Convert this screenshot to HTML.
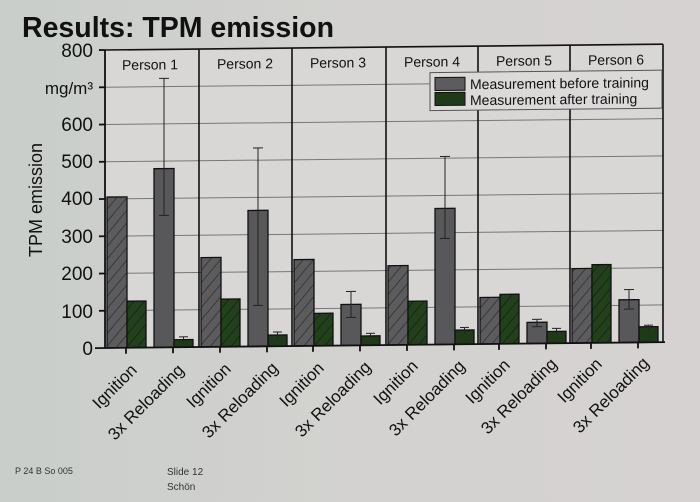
<!DOCTYPE html>
<html><head><meta charset="utf-8"><style>
html,body{margin:0;padding:0}
body{width:700px;height:497px;overflow:hidden;background:linear-gradient(90deg,#c9ceca 0%,#d3d2d0 50%,#d6d2d2 100%);font-family:"Liberation Sans",sans-serif}
</style></head><body>
<svg width="700" height="497" xmlns="http://www.w3.org/2000/svg" font-family="Liberation Sans, sans-serif">
<defs>
<pattern id="hg" patternUnits="userSpaceOnUse" width="8" height="8" patternTransform="rotate(40)">
<rect width="8" height="8" fill="#5c5c5e"/><line x1="0" y1="0" x2="0" y2="8" stroke="#2a2a2a" stroke-width="1.4"/></pattern>
<pattern id="hk" patternUnits="userSpaceOnUse" width="8" height="8" patternTransform="rotate(40)">
<rect width="8" height="8" fill="#22401c"/><line x1="0" y1="0" x2="0" y2="8" stroke="#0f1f0c" stroke-width="1.4"/></pattern>
</defs>
<text x="22" y="37" font-size="28.5" font-weight="bold" fill="#111">Results: TPM emission</text>
<g font-size="19" fill="#111" text-anchor="end">
<text x="93" y="57">800</text><text x="93" y="94" font-size="17">mg/m³</text>
<text x="93" y="131">600</text><text x="93" y="168">500</text><text x="93" y="205">400</text>
<text x="93" y="243">300</text><text x="93" y="280">200</text><text x="93" y="318">100</text><text x="93" y="355">0</text>
</g>
<text transform="translate(42,200) rotate(-90)" font-size="18" text-anchor="middle" fill="#111">TPM emission</text>
<g transform="translate(105,348) skewY(-0.6)">
<rect x="0" y="-298" width="558" height="298" fill="#d9d6d6"/>
<g stroke="#777" stroke-width="1">
<line x1="0" y1="-37.25" x2="558" y2="-37.25"/><line x1="0" y1="-74.5" x2="558" y2="-74.5"/>
<line x1="0" y1="-111.75" x2="558" y2="-111.75"/><line x1="0" y1="-149" x2="558" y2="-149"/>
<line x1="0" y1="-186.25" x2="558" y2="-186.25"/><line x1="0" y1="-223.5" x2="558" y2="-223.5"/>
<line x1="0" y1="-260.75" x2="558" y2="-260.75"/>
</g>
<g stroke="#111" stroke-width="1.6">
<line x1="0" y1="-298" x2="558" y2="-298"/>
<line x1="94" y1="-298" x2="94" y2="0"/><line x1="187" y1="-298" x2="187" y2="0"/>
<line x1="281" y1="-298" x2="281" y2="0"/><line x1="373" y1="-298" x2="373" y2="0"/>
<line x1="465" y1="-298" x2="465" y2="0"/><line x1="558" y1="-298" x2="558" y2="0"/>
</g>
<rect x="325" y="-272" width="232" height="38" fill="#dcd9d9" stroke="#555" stroke-width="1"/>
<rect x="330" y="-267" width="30" height="13" fill="#5c5c5e" stroke="#111"/>
<rect x="330" y="-252" width="30" height="13" fill="#1f3a19" stroke="#111"/>
<text x="365" y="-255" font-size="14" fill="#111">Measurement before training</text>
<text x="365" y="-239" font-size="14" fill="#111">Measurement after training</text>
<g font-size="14" fill="#111" text-anchor="middle">
<text x="45" y="-278">Person 1</text><text x="140" y="-278">Person 2</text><text x="233" y="-278">Person 3</text>
<text x="327" y="-278">Person 4</text><text x="419" y="-278">Person 5</text><text x="511" y="-278">Person 6</text>
</g>
<g stroke="#111" stroke-width="1.3">
<rect x="2" y="-150.9" width="20" height="150.9" fill="url(#hg)"/><rect x="22" y="-46.6" width="19" height="46.6" fill="url(#hk)"/>
<rect x="49" y="-178.8" width="20" height="178.8" fill="#58585a"/><rect x="69" y="-7.5" width="19" height="7.5" fill="#1f3a19"/>
<rect x="96" y="-89.4" width="20" height="89.4" fill="url(#hg)"/><rect x="116" y="-47.7" width="19" height="47.7" fill="url(#hk)"/>
<rect x="143" y="-136" width="20" height="136" fill="#58585a"/><rect x="163" y="-11.2" width="19" height="11.2" fill="#1f3a19"/>
<rect x="189" y="-86.4" width="20" height="86.4" fill="url(#hg)"/><rect x="209" y="-32.4" width="19" height="32.4" fill="url(#hk)"/>
<rect x="236" y="-41" width="20" height="41" fill="#58585a"/><rect x="256" y="-9.3" width="19" height="9.3" fill="#1f3a19"/>
<rect x="283" y="-79.3" width="20" height="79.3" fill="url(#hg)"/><rect x="303" y="-43.6" width="19" height="43.6" fill="url(#hk)"/>
<rect x="330" y="-136" width="20" height="136" fill="#58585a"/><rect x="350" y="-14.2" width="19" height="14.2" fill="#1f3a19"/>
<rect x="375" y="-46.6" width="20" height="46.6" fill="url(#hg)"/><rect x="395" y="-49.5" width="19" height="49.5" fill="url(#hk)"/>
<rect x="422" y="-21.2" width="20" height="21.2" fill="#58585a"/><rect x="442" y="-11.9" width="19" height="11.9" fill="#1f3a19"/>
<rect x="467" y="-74.5" width="20" height="74.5" fill="url(#hg)"/><rect x="487" y="-78.2" width="19" height="78.2" fill="url(#hk)"/>
<rect x="514" y="-42.8" width="20" height="42.8" fill="#58585a"/><rect x="534" y="-15.6" width="19" height="15.6" fill="#1f3a19"/>
</g>
<g stroke="#222" stroke-width="1">
<path d="M59,-269V-132M54,-269H64M54,-132H64"/>
<path d="M78.5,-10.4V-5M74,-10.4H83"/>
<path d="M153,-198.5V-41M148,-198.5H158M148,-41H158"/>
<path d="M172.5,-14.2V-8M168,-14.2H177"/>
<path d="M246,-54V-28M241,-54H251M241,-28H251"/>
<path d="M265.5,-11.9V-7M261,-11.9H270"/>
<path d="M340,-188V-106M335,-188H345M335,-106H345"/>
<path d="M359.5,-16.8V-11M355,-16.8H364"/>
<path d="M432,-24.2V-16.8M427,-24.2H437M427,-16.8H437"/>
<path d="M451.5,-14.9V-9M447,-14.9H456"/>
<path d="M524,-52.9V-33.5M519,-52.9H529M519,-33.5H529"/>
<path d="M543.5,-17.1V-13M539,-17.1H548"/>
</g>
<g stroke="#111" stroke-width="1.8">
<line x1="-10" y1="0" x2="560" y2="0"/><line x1="0" y1="-298" x2="0" y2="0"/>
<line x1="-6" y1="-298" x2="0" y2="-298"/><line x1="-6" y1="-260.75" x2="0" y2="-260.75"/><line x1="-6" y1="-223.5" x2="0" y2="-223.5"/>
<line x1="-6" y1="-186.25" x2="0" y2="-186.25"/><line x1="-6" y1="-149" x2="0" y2="-149"/><line x1="-6" y1="-111.75" x2="0" y2="-111.75"/>
<line x1="-6" y1="-74.5" x2="0" y2="-74.5"/><line x1="-6" y1="-37.25" x2="0" y2="-37.25"/>
<line x1="21" y1="0" x2="21" y2="6"/><line x1="68" y1="0" x2="68" y2="6"/>
<line x1="115" y1="0" x2="115" y2="6"/><line x1="162" y1="0" x2="162" y2="6"/>
<line x1="208" y1="0" x2="208" y2="6"/><line x1="255" y1="0" x2="255" y2="6"/>
<line x1="302" y1="0" x2="302" y2="6"/><line x1="349" y1="0" x2="349" y2="6"/>
<line x1="394" y1="0" x2="394" y2="6"/><line x1="441" y1="0" x2="441" y2="6"/>
<line x1="486" y1="0" x2="486" y2="6"/><line x1="533" y1="0" x2="533" y2="6"/>
</g>
</g>
<g font-size="17" fill="#111" text-anchor="end">
<text transform="translate(138,371) rotate(-45)">Ignition</text>
<text transform="translate(185,371) rotate(-45)">3x Reloading</text>
<text transform="translate(232,370) rotate(-45)">Ignition</text>
<text transform="translate(279,369) rotate(-45)">3x Reloading</text>
<text transform="translate(325,369) rotate(-45)">Ignition</text>
<text transform="translate(372,368) rotate(-45)">3x Reloading</text>
<text transform="translate(419,367) rotate(-45)">Ignition</text>
<text transform="translate(466,367) rotate(-45)">3x Reloading</text>
<text transform="translate(511,366) rotate(-45)">Ignition</text>
<text transform="translate(558,365) rotate(-45)">3x Reloading</text>
<text transform="translate(603,365) rotate(-45)">Ignition</text>
<text transform="translate(650,364) rotate(-45)">3x Reloading</text>
</g>
<text x="15" y="474" font-size="9" fill="#333">P 24 B So 005</text>
<text x="167" y="475" font-size="10" fill="#333">Slide 12</text>
<text x="167" y="490" font-size="10" fill="#333">Schön</text>
</svg>
</body></html>
